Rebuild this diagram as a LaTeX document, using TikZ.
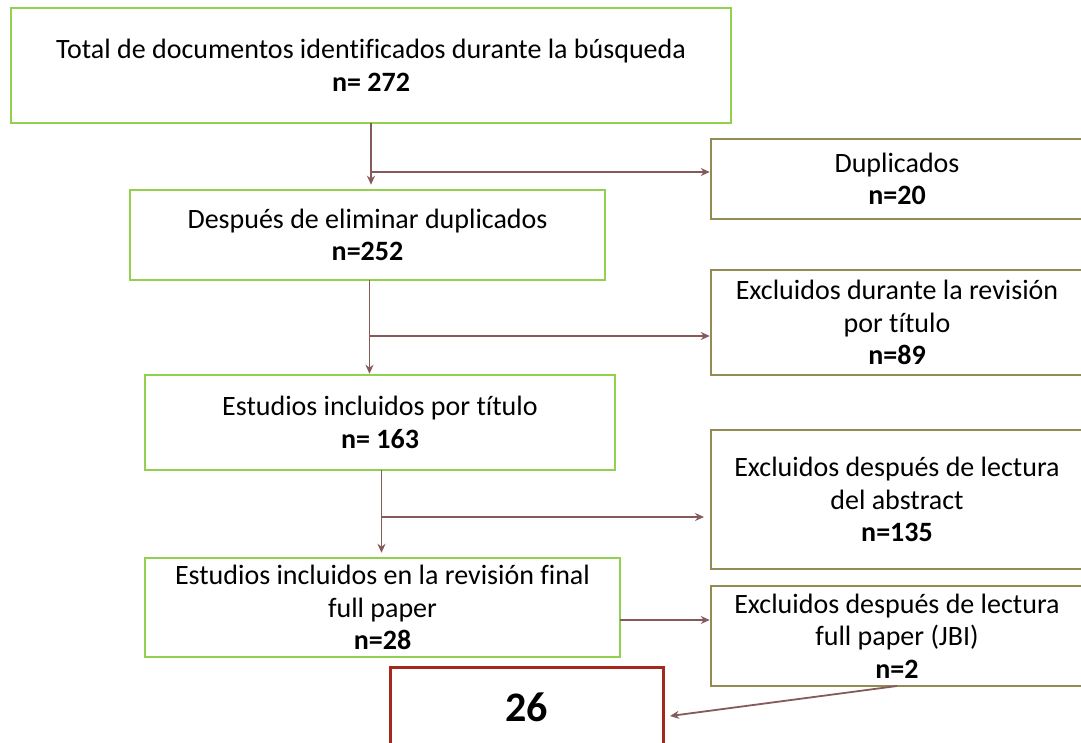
\documentclass[tikz,border=0pt]{standalone}
\usepackage{fontspec}
\setmainfont{Carlito}[Ligatures=NoCommon]
\usetikzlibrary{arrows.meta}
\definecolor{gbord}{RGB}{146,208,80}
\definecolor{tbord}{RGB}{148,138,84}
\definecolor{rbord}{RGB}{165,40,30}
\definecolor{conn}{RGB}{132,90,90}
\tikzset{
  box/.style={draw, line width=2.5pt, align=center, inner sep=0pt, font=\fontsize{28}{32.5}\selectfont, text=black},
  gbox/.style={box, draw=gbord},
  tbox/.style={box, draw=tbord},
  rbox/.style={box, draw=rbord, line width=3pt},
  arr/.style={draw=conn, line width=1.8pt, -{Stealth[length=9pt,width=8pt]}},
}
\begin{document}
\begin{tikzpicture}[x=1pt,y=-1pt]
\useasboundingbox (0,0) rectangle (1081,742);
\clip (0,0) rectangle (1081,742);
\fill[white] (0,0) rectangle (1081,742);
% left column
\node[gbox, minimum width=720pt, minimum height=115pt] (b1) at (371,65.5)
  {Total de documentos identificados durante la búsqueda\\\textbf{n= 272}};
\node[gbox, minimum width=475pt, minimum height=90pt] (b2) at (367.5,235)
  {Después de eliminar duplicados\\\textbf{n=252}};
\node[gbox, minimum width=470pt, minimum height=95pt] (b3) at (380,422.5)
  {Estudios incluidos por título\\\textbf{n= 163}};
\node[gbox, minimum width=475pt, minimum height=99pt] (b4) at (382.5,607.5)
  {Estudios incluidos en la revisión final\\full paper\\\textbf{n=28}};
\node[rbox, minimum width=273pt, minimum height=80pt] (b5) at (526.5,707)
  {\fontsize{42}{44}\selectfont\textbf{26}};
% right column
\node[tbox, minimum width=372pt, minimum height=80pt] (r1) at (897,179)
  {Duplicados\\\textbf{n=20}};
\node[tbox, minimum width=372pt, minimum height=105pt] (r2) at (897,322.5)
  {Excluidos durante la revisión\\por título\\\textbf{n=89}};
\node[tbox, minimum width=372pt, minimum height=139pt] (r3) at (897,499.5)
  {Excluidos después de lectura\\del abstract\\\textbf{n=135}};
\node[tbox, minimum width=372pt, minimum height=100pt] (r4) at (897,636)
  {Excluidos después de lectura\\full paper (JBI)\\\textbf{n=2}};
% junction coordinates
\coordinate (t1) at (371,123);
\coordinate (j1) at (371,172);
\coordinate (t2) at (369.5,280);
\coordinate (j2) at (369.5,336);
\coordinate (t3) at (381.5,470);
\coordinate (j3) at (381.5,517);
\coordinate (e3) at (704,517);
\coordinate (s4) at (620,620);
\coordinate (s5) at (897,686);
\coordinate (e5) at (670,716);
% connectors
\draw[arr] (t1) -- (t1 |- b2.north) [shorten >=4pt];
\draw[arr] (j1) -- (j1 -| r1.west);
\draw[arr] (t2) -- (t2 |- b3.north);
\draw[arr] (j2) -- (j2 -| r2.west);
\draw[arr] (t3) -- (t3 |- b4.north) [shorten >=4pt];
\draw[arr] (j3) -- (e3);
\draw[arr] (s4) -- (s4 -| r4.west);
\draw[arr] (s5) -- (e5);
\end{tikzpicture}
\end{document}
